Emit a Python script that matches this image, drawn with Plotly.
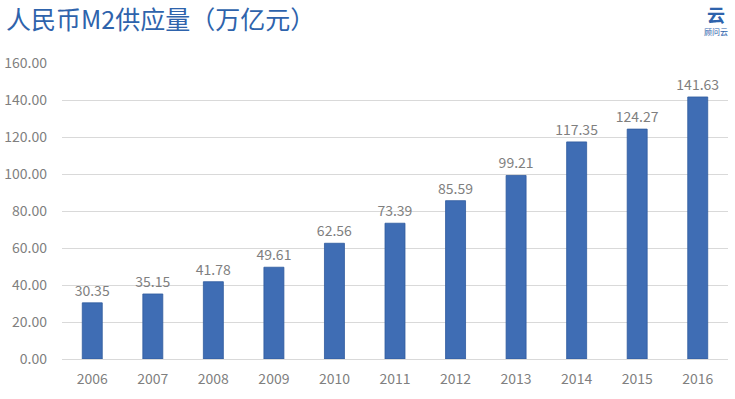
import plotly.graph_objects as go

years = ["2006", "2007", "2008", "2009", "2010", "2011", "2012", "2013", "2014", "2015", "2016"]
m2 = [30.35, 35.15, 41.78, 49.61, 62.56, 73.39, 85.59, 99.21, 117.35, 124.27, 141.63]
y_ticks = [0, 20, 40, 60, 80, 100, 120, 140, 160]

FONT = "Noto Sans CJK SC, Noto Sans, sans-serif"

fig = go.Figure(go.Bar(
    x=years, y=m2,
    marker=dict(color="#3F6DB4", line=dict(color="#2F5A9E", width=0.8)),
    width=0.33,
    text=[f"{v:.2f}" for v in m2],
    textposition="outside",
    constraintext="none",
    textfont=dict(color="#7F7F7F", size=14, family=FONT),
    cliponaxis=False,
))

fig.update_layout(
    width=735, height=399,
    margin=dict(l=62, r=7, t=63, b=40),
    plot_bgcolor="white", paper_bgcolor="white",
    showlegend=False,
    xaxis=dict(
        showgrid=False, showline=False, ticks="", automargin=False,
        tickfont=dict(color="#7F7F7F", size=14, family=FONT),
        ticklabelstandoff=10,
    ),
    yaxis=dict(
        range=[0, 160], tickvals=y_ticks, automargin=False,
        ticktext=[f"{v:.2f}" for v in y_ticks],
        showgrid=True, gridcolor="#D9D9D9", gridwidth=1,
        zeroline=True, zerolinecolor="#D9D9D9", zerolinewidth=1,
        tickfont=dict(color="#7F7F7F", size=14, family=FONT),
        ticklabelstandoff=14,
    ),
)
fig.add_annotation(text="人民币M2供应量（万亿元）", xref="paper", yref="paper",
                   x=-58/666, y=1 + 45/296, xanchor="left", yanchor="middle",
                   showarrow=False, font=dict(size=25, color="#2E63AC", family=FONT))
fig.add_annotation(text="<b>云</b>", xref="paper", yref="paper",
                   x=(716 - 62) / 666, y=1 + (63 - 14) / 296, xanchor="center", yanchor="middle",
                   showarrow=False, font=dict(size=18, color="#2E63AC", family=FONT))
fig.add_annotation(text="顾问云", xref="paper", yref="paper",
                   x=(716 - 62) / 666, y=1 + (63 - 32) / 296, xanchor="center", yanchor="middle",
                   showarrow=False, font=dict(size=8, color="#2E63AC", family=FONT))

fig.write_html("out.html", config={"displayModeBar": False},
               post_script="document.body.style.margin='0';")
